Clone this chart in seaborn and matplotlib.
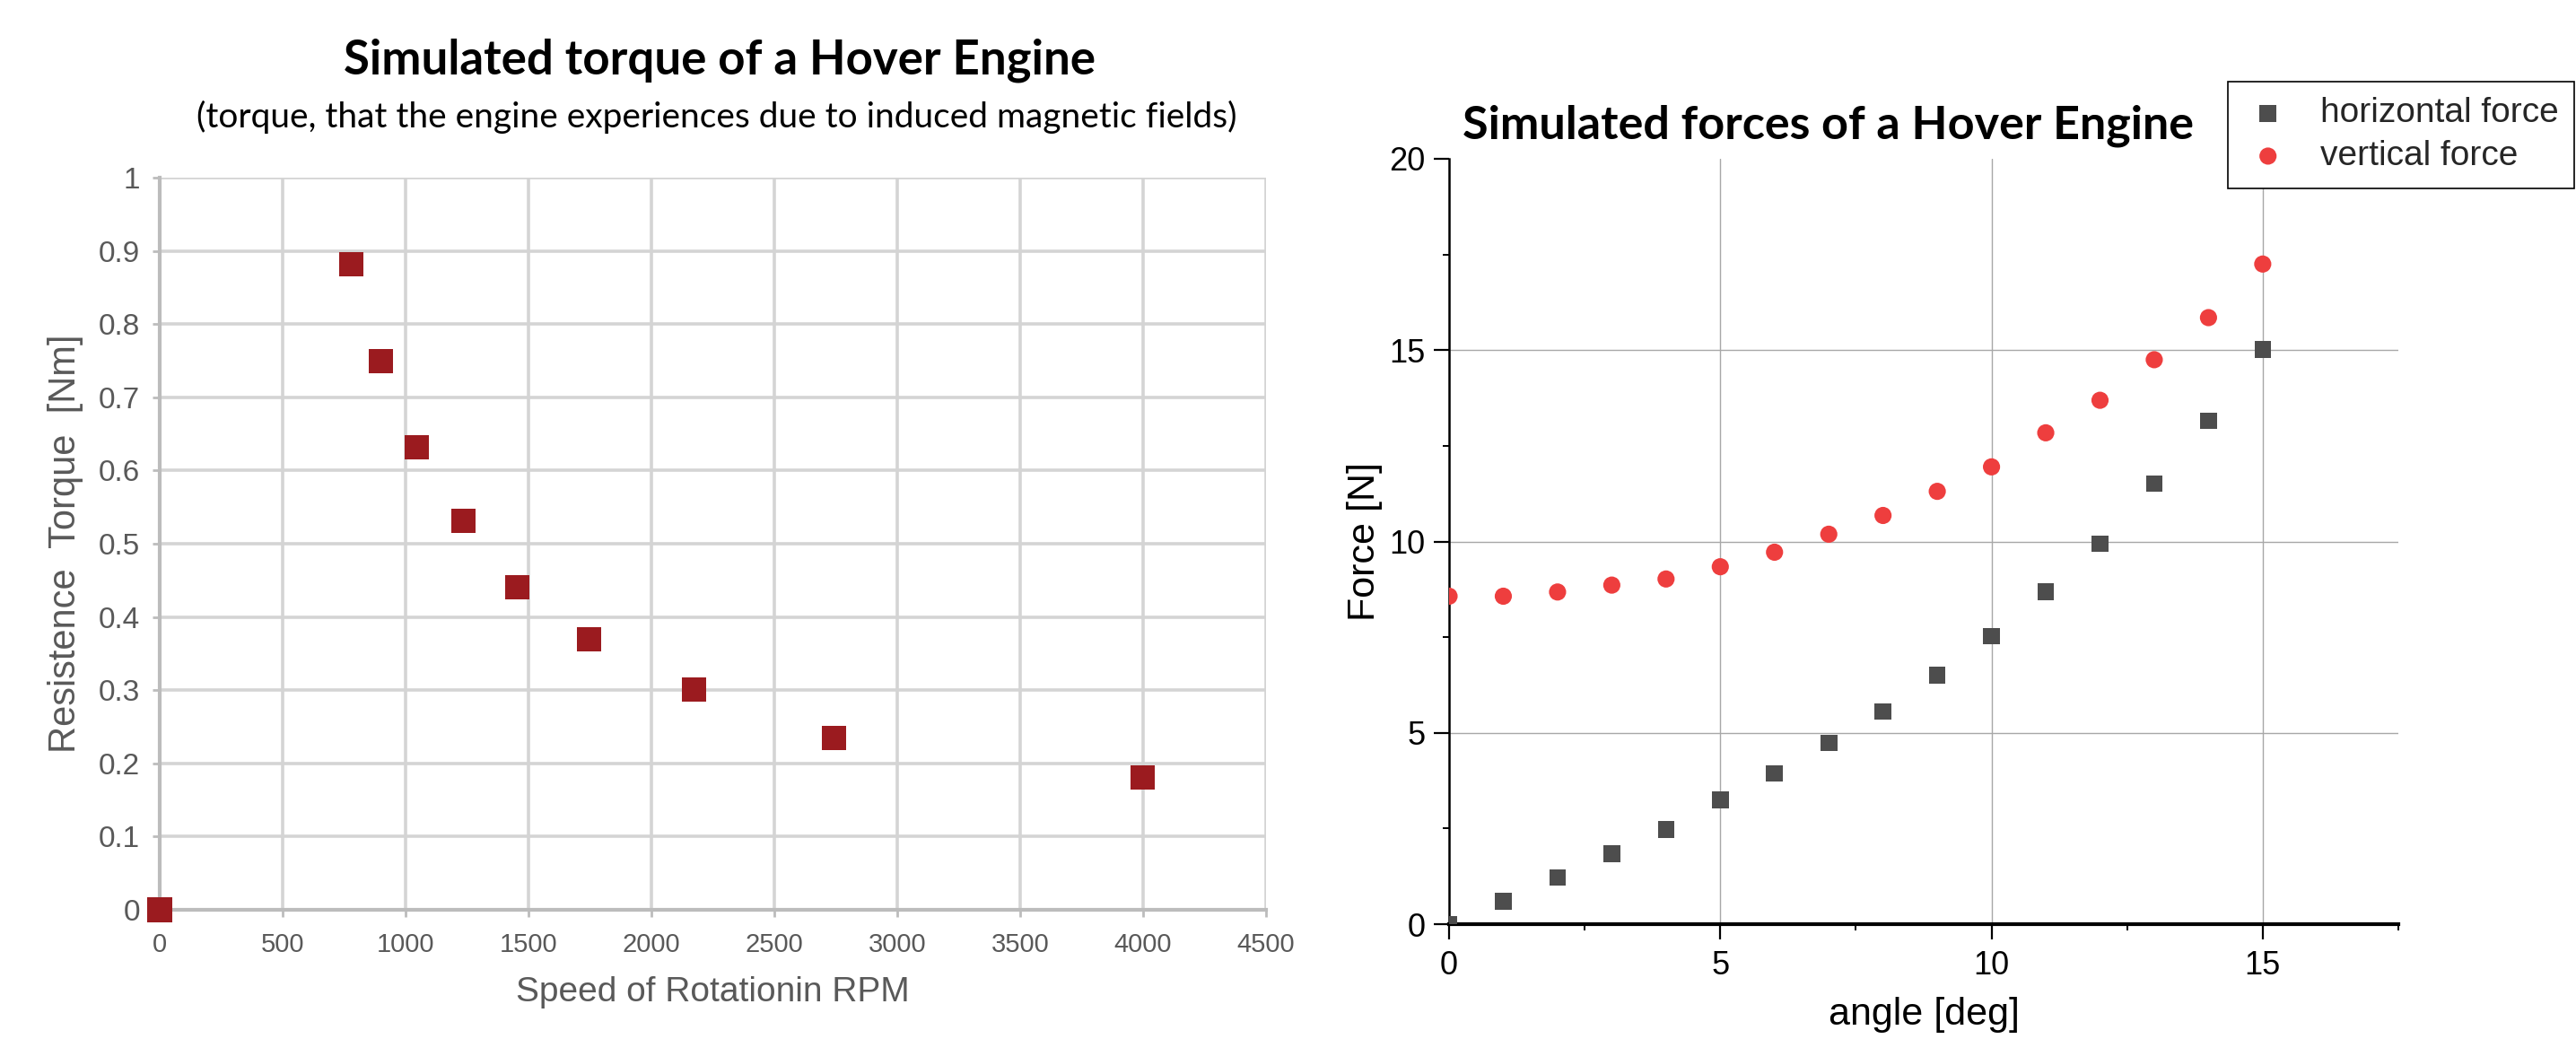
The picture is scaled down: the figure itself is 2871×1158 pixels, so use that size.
import matplotlib
matplotlib.use("Agg")
import matplotlib.pyplot as plt
from matplotlib.ticker import FormatStrFormatter, MultipleLocator
import pandas as pd
import seaborn as sns

# torque chart data
rpm = [0, 780, 900, 1046, 1235, 1454, 1745, 2172, 2744, 3997]
torque = [0.0, 0.882, 0.749, 0.632, 0.531, 0.441, 0.370, 0.301, 0.235, 0.181]
rpm_ticks = [0, 500, 1000, 1500, 2000, 2500, 3000, 3500, 4000, 4500]
torque_ticks = [0, 0.1, 0.2, 0.3, 0.4, 0.5, 0.6, 0.7, 0.8, 0.9, 1]

# force chart data
angle = [0, 1, 2, 3, 4, 5, 6, 7, 8, 9, 10, 11, 12, 13, 14, 15]
horizontal_force = [0.0, 0.6, 1.22, 1.84, 2.48, 3.24, 3.94, 4.74, 5.56, 6.51,
                    7.53, 8.68, 9.94, 11.51, 13.15, 15.02]
vertical_force = [8.57, 8.57, 8.68, 8.86, 9.02, 9.34, 9.72, 10.19, 10.68, 11.31,
                  11.95, 12.84, 13.69, 14.75, 15.85, 17.25]
angle_ticks = [0, 5, 10, 15]
force_ticks = [0, 5, 10, 15, 20]

sns.set_theme(style="white")
plt.rcParams['font.family'] = ['Liberation Sans', 'DejaVu Sans']

W, H = 2871, 1158
fig = plt.figure(figsize=(W / 100, H / 100), dpi=100)

# ---------------- left: torque ----------------
grey_txt = "#595959"
ax1 = fig.add_axes([178 / W, 1 - 1014 / H, (1411 - 178) / W, (1014 - 198) / H])
df_t = pd.DataFrame({"rpm": rpm, "torque": torque})
sns.scatterplot(data=df_t, x="rpm", y="torque", ax=ax1, marker="s", s=380,
                color="#9b1b1f", edgecolor="none", clip_on=False, zorder=5)
ax1.set_xlim(0, 4500)
ax1.set_ylim(0, 1)
ax1.set_xticks(rpm_ticks)
ax1.set_yticks(torque_ticks)
ax1.yaxis.set_major_formatter(FormatStrFormatter("%g"))
ax1.grid(True, color="#d4d4d4", linewidth=2.6)
for side in ["top", "right"]:
    ax1.spines[side].set_visible(False)
for side in ["left", "bottom"]:
    ax1.spines[side].set_color("#bcbcbc")
    ax1.spines[side].set_linewidth(3)
ax1.tick_params(axis="both", direction="out", length=6, width=2, color="#bcbcbc",
                left=True, bottom=True)
ax1.tick_params(axis="y", labelsize=24, labelcolor=grey_txt, pad=10)
ax1.tick_params(axis="x", labelsize=21, labelcolor=grey_txt, pad=12)
ax1.set_xlabel("Speed of Rotationin RPM", fontsize=28, color=grey_txt, labelpad=15)
ax1.set_ylabel("Resistence  Torque  [Nm]", fontsize=30, color=grey_txt, labelpad=12)

fig.text(802 / W, 1 - 67 / H, "Simulated torque of a Hover Engine",
         family=["Lato", "DejaVu Sans"], fontweight="bold", fontsize=38,
         ha="center", va="center", color="black")
fig.text(799 / W, 1 - 130 / H,
         "(torque, that the engine experiences due to induced magnetic fields)",
         family=["Lato", "DejaVu Sans"], fontsize=28,
         ha="center", va="center", color="black")

# ---------------- right: forces ----------------
ax2 = fig.add_axes([1615 / W, 1 - 1030 / H, (2673 - 1615) / W, (1030 - 177) / H])
df_f = pd.DataFrame({"angle": angle, "horizontal": horizontal_force,
                     "vertical": vertical_force})
sns.scatterplot(data=df_f, x="angle", y="horizontal", ax=ax2, marker="s", s=180,
                color="#4d4d4d", edgecolor="none", label="horizontal force", zorder=5)
sns.scatterplot(data=df_f, x="angle", y="vertical", ax=ax2, marker="o", s=190,
                color="#ee3e3e", edgecolor="none", label="vertical force", zorder=5)
ax2.set_xlim(0, 17.5)
ax2.set_ylim(0, 20)
ax2.set_xticks(angle_ticks)
ax2.set_yticks(force_ticks)
ax2.xaxis.set_minor_locator(MultipleLocator(2.5))
ax2.yaxis.set_minor_locator(MultipleLocator(2.5))
ax2.grid(True, which="major", color="#a8a8a8", linewidth=1.0)
ax2.yaxis.get_gridlines()[-1].set_visible(False)
for side in ["top", "right"]:
    ax2.spines[side].set_visible(False)
ax2.spines["left"].set_color("black")
ax2.spines["left"].set_linewidth(1.8)
ax2.spines["bottom"].set_color("black")
ax2.spines["bottom"].set_linewidth(3)
ax2.tick_params(axis="both", which="major", direction="out", length=12, width=1.6,
                color="black", labelsize=26, labelcolor="black", left=True, bottom=True)
ax2.tick_params(axis="both", which="minor", direction="out", length=5, width=1.4,
                color="black", left=True, bottom=True)
ax2.tick_params(axis="x", which="major", pad=9)
ax2.tick_params(axis="y", which="major", pad=7)
ax2.set_xlabel("angle [deg]", fontsize=31, color="black", labelpad=12)
ax2.set_ylabel("Force [N]", fontsize=31, color="black", labelpad=5)

fig.text(2037 / W, 1 - 140 / H, "Simulated forces of a Hover Engine",
         family=["Lato", "DejaVu Sans"], fontweight="bold", fontsize=37.5,
         ha="center", va="center", color="black")

leg = ax2.legend(loc="upper left", bbox_to_anchor=(2483 / W, 1 - 91 / H),
                 bbox_transform=fig.transFigure, fontsize=28, frameon=True,
                 fancybox=False, edgecolor="black", framealpha=1,
                 borderpad=0.45, handlelength=1.4, handletextpad=0.8,
                 labelspacing=0.3, borderaxespad=0)
leg.get_frame().set_linewidth(1.2)

fig.savefig("out.png", dpi=100)
